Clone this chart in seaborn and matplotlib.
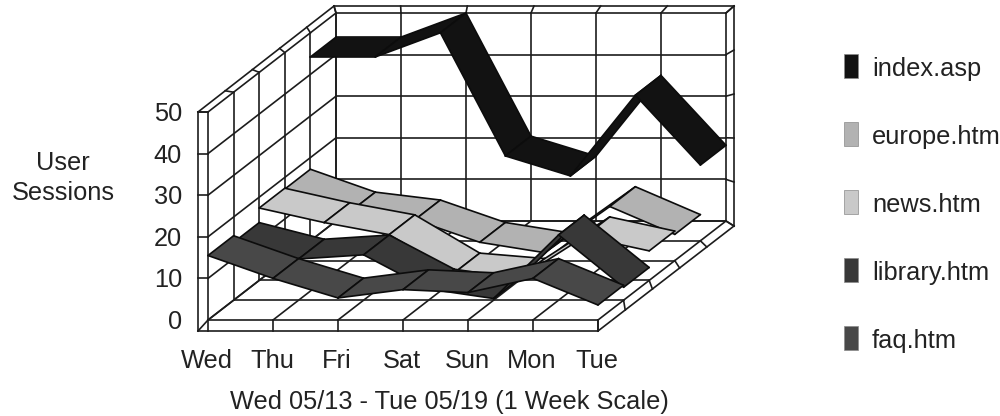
import matplotlib
matplotlib.use("Agg")
import matplotlib.pyplot as plt
import pandas as pd
import seaborn as sns

days = ["Wed", "Thu", "Fri", "Sat", "Sun", "Mon", "Tue"]
series_names = ["index.asp", "europe.htm", "news.htm", "library.htm", "faq.htm"]
index_asp = [44.2, 44.2, 50, 20.4, 15.6, 35, 18.2]
europe_htm = [17.2, 11.7, 9.8, 4.4, 1.9, 13, 6.3]
news_htm = [17.4, 13.9, 11, 1.8, 0.5, 10.5, 7.1]
library_htm = [13.9, 9.9, 10.9, 2.7, 0.4, 15.7, 3.1]
faq_htm = [15.5, 10, 5.3, 7.3, 6.6, 10, 3.6]
values = [index_asp, europe_htm, news_htm, library_htm, faq_htm]
colors = ["#121212", "#b2b2b2", "#c9c9c9", "#383838", "#484848"]
y_ticks = [0, 10, 20, 30, 40, 50]
x_title = "Wed 05/13 - Tue 05/19 (1 Week Scale)"
y_title = ["User", "Sessions"]

X0, Y0, DAY_DX, DEPTH_DX, DEPTH_DY, VAL_K = 208, 320, 65, 128, -99, 4.16
INK = "#1c1c1c"
GRID_LW = 1.2
N = len(series_names)
LAST = len(days) - 1
TOP = y_ticks[-1]


def proj(day, depth, val):
    return X0 + DAY_DX * day + DEPTH_DX * depth, Y0 + DEPTH_DY * depth - VAL_K * val


sns.set_theme(style="white")
plt.rcParams["font.family"] = ["Liberation Sans", "DejaVu Sans"]
fig = plt.figure(figsize=(10, 4.16), dpi=100)
ax = fig.add_axes([0, 0, 1, 1])
ax.set_xlim(0, 1000)
ax.set_ylim(416, 0)
ax.set_axis_off()


def off_line(p, q, op=(0, 0), oq=(0, 0), lw=GRID_LW, z=1):
    ax.plot([p[0] + op[0], q[0] + oq[0]], [p[1] + op[1], q[1] + oq[1]],
            color=INK, lw=lw, zorder=z, solid_capstyle="projecting")


def mix(a, b, t):
    return a[0] + (b[0] - a[0]) * t, a[1] + (b[1] - a[1]) * t


O_FL, O_FB = (-10, 11), (0, 11)      # front floor, outer plate
O_TL, O_TB, O_TR, O_BR = (-10, 0), (-2, -7), (8, -7), (8, 5)

# back wall
for v in y_ticks:
    off_line(proj(0, 1, v), proj(LAST, 1, v))
for d in range(len(days)):
    off_line(proj(d, 1, 0), proj(d, 1, TOP))
# side wall
for k in range(N + 1):
    t = k / N
    off_line(proj(0, t, 0), proj(0, t, TOP))
    off_line(proj(0, t, TOP), proj(0, t, TOP), (0, 0), mix(O_TL, O_TB, t))
    # floor depth lines
    off_line(proj(0, t, 0), proj(LAST, t, 0))
    off_line(proj(LAST, t, 0), proj(LAST, t, 0), (0, 0), mix(O_FB, O_BR, t))
for v in y_ticks:
    off_line(proj(0, 0, v), proj(0, 1, v))
    off_line(proj(0, 0, v), proj(0, 0, v), (0, 0), (-10, 11 if v == 0 else 0))
    off_line(proj(LAST, 1, v), proj(LAST, 1, v), (0, 0), mix(O_BR, O_TR, v / TOP))
# floor day lines
for d in range(len(days)):
    off_line(proj(d, 0, 0), proj(d, 1, 0))
    off_line(proj(d, 0, 0), proj(d, 0, 0), (0, 0), (0, 11))
    off_line(proj(d, 1, TOP), proj(d, 1, TOP), (0, 0), mix(O_TB, O_TR, d / LAST))
# outer frame
off_line(proj(0, 0, 0), proj(0, 0, TOP), O_FL, O_TL)
off_line(proj(0, 0, 0), proj(LAST, 0, 0), O_FL, O_FB)
off_line(proj(LAST, 0, 0), proj(LAST, 1, 0), O_FB, O_BR)
off_line(proj(LAST, 1, 0), proj(LAST, 1, TOP), O_BR, O_TR)
off_line(proj(LAST, 1, TOP), proj(0, 1, TOP), O_TR, O_TB)
off_line(proj(0, 1, TOP), proj(0, 0, TOP), O_TB, O_TL)

# ribbons, back to front
z = 3
for s, (vals, col) in enumerate(zip(values, colors)):
    d1 = 1 - s / N
    d0 = d1 - 1 / N
    for i in range(LAST):
        a, b = proj(i, d0, vals[i]), proj(i + 1, d0, vals[i + 1])
        c, e = proj(i + 1, d1, vals[i + 1]), proj(i, d1, vals[i])
        ax.fill([a[0], b[0], c[0], e[0]], [a[1], b[1], c[1], e[1]],
                facecolor=col, edgecolor="none", zorder=z)
        rows = []
        for u, (p, q) in enumerate([(a, b), (b, c), (c, e), (e, a)]):
            rows += [dict(sx=p[0], sy=p[1], edge=u), dict(sx=q[0], sy=q[1], edge=u)]
        sns.lineplot(data=pd.DataFrame(rows), x="sx", y="sy", units="edge",
                     estimator=None, sort=False, color="#0c0c0c", lw=1.2,
                     legend=False, ax=ax, zorder=z + 0.5)
        z += 1
ax.set_xlim(0, 1000)
ax.set_ylim(416, 0)
ax.set_axis_off()

# text
FS = 18.3
TC = "#222222"
for v in y_ticks:
    x, y = proj(0, 0, v)
    ax.text(x - 26, y + 2, str(v), ha="right", va="center", fontsize=FS, color=TC)
for d, name in enumerate(days):
    x, _ = proj(d, 0, 0)
    ax.text(x - 1, 361, name, ha="center", va="center", fontsize=FS, color=TC)
ax.text(449, 402, x_title, ha="center", va="center", fontsize=FS, color=TC)
ax.text(63, 163, y_title[0], ha="center", va="center", fontsize=FS, color=TC)
ax.text(63, 193, y_title[1], ha="center", va="center", fontsize=FS, color=TC)

# legend
for k, (name, col) in enumerate(zip(series_names, colors)):
    yc = 66 + 68 * k
    ax.fill([844, 858, 858, 844], [yc - 12, yc - 12, yc + 12, yc + 12],
            facecolor=col, edgecolor="#8a8a8a", lw=0.5, zorder=500)
    ax.text(872, yc + 3, name, ha="left", va="center", fontsize=FS, color=TC)

fig.savefig("out.png", dpi=100, facecolor="white")
